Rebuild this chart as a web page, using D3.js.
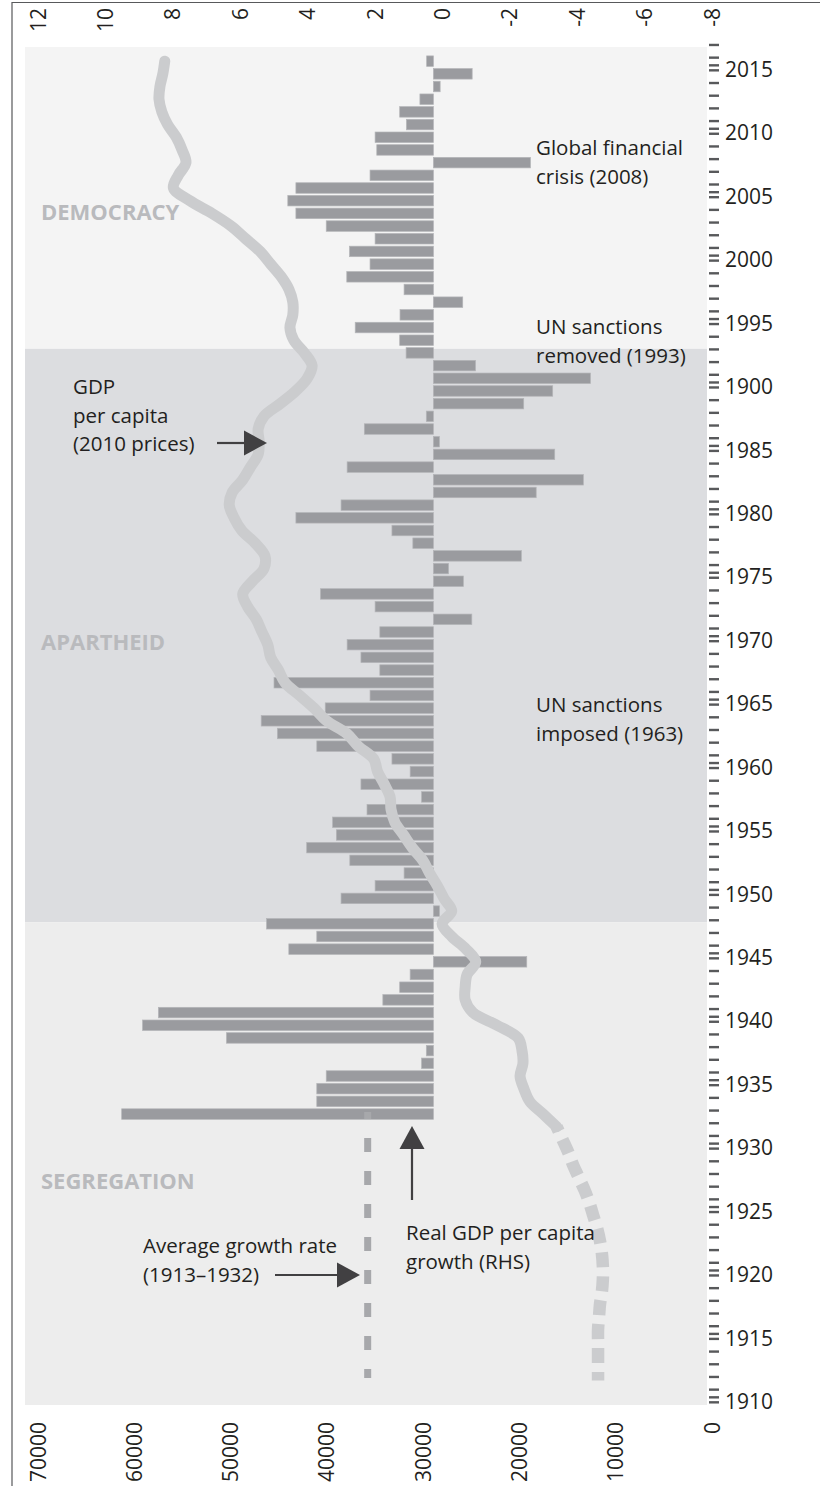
<!DOCTYPE html>
<html>
<head>
<meta charset="utf-8">
<script src="https://cdn.jsdelivr.net/npm/d3@7"></script>
<style>
body { margin: 0; background: #fff; }
text { font-family: "Open Sans", "Noto Sans", sans-serif; fill: #231f20; }
</style>
</head>
<body>
<div id="chart"></div>
<script>
const width = 820
const height = 1486

// real GDP per capita growth (%), 2016 back to 1933
const barYears = d3.range(2016, 1932, -1)
const growthValues = [
  0.2, -1.15, -0.2, 0.4, 1.0, 0.8, 1.73, 1.68, -2.88, 1.88,
  4.08, 4.32, 4.08, 3.18, 1.73, 2.49, 1.88, 2.57, 0.87, -0.87,
  0.99, 2.32, 1.0, 0.81, -1.25, -4.66, -3.54, -2.68, 0.21, 2.05,
  -0.18, -3.6, 2.56, -4.45, -3.05, 2.74, 4.08, 1.23, 0.61, -2.61,
  -0.45, -0.89, 3.35, 1.73, -1.14, 1.59, 2.56, 2.15, 1.59, 4.73,
  1.88, 3.21, 5.11, 4.63, 3.46, 1.23, 0.69, 2.15, 0.35, 1.97,
  2.99, 2.88, 3.76, 2.48, 0.87, 1.73, 2.74, -0.18, 4.95, 3.46,
  4.29, -2.77, 0.69, 1.0, 1.5, 8.16, 8.63, 6.14, 0.21, 0.35,
  3.18, 3.46, 3.46, 9.25
]

// GDP per capita, 2010 prices (rand), 2016 back to 1912
const gdpYears = d3.range(2016, 1911, -1)
const gdpValues = [
  55900, 56100, 56400, 56500, 56200, 55600, 54700, 54100, 53700, 54500,
  55000, 53300, 51000, 49000, 47500, 46000, 44900, 43800, 43000, 42600,
  42600, 42900, 42500, 41400, 40600, 41100, 42300, 43900, 45600, 46200,
  46100, 46200, 47000, 47800, 48900, 49200, 48700, 47900, 46500, 45500,
  45600, 46800, 47800, 47300, 46400, 45800, 45200, 44900, 44100, 43400,
  41900, 40400, 39100, 37000, 35800, 34200, 33800, 33100, 32500, 32400,
  32000, 31100, 30200, 29100, 28400, 27600, 26900, 26100, 27100, 26100,
  24600, 23600, 24500, 24700, 24700, 23900, 21400, 19200, 18800, 18700,
  19000, 18600, 18000, 16600, 15200, 14600, 14000, 13500, 12900, 12300,
  11800, 11400, 11000, 10700, 10500, 10400, 10400, 10500, 10700, 10800,
  10900, 10900, 10900, 10900, 10900
]
const gdpDashedBefore = 1932

// average growth rate 1913-1932
const avgGrowth = 1.95
const avgSpan = [1933, 1912.2]

const eraNames = ["DEMOCRACY", "APARTHEID", "SEGREGATION"]
const eraStarts = [2016.8, 1993, 1947.8]
const eraEnds = [1993, 1947.8, 1909.75]

const growthTicks = [12, 10, 8, 6, 4, 2, 0, -2, -4, -6, -8]
const gdpTicks = [70000, 60000, 50000, 40000, 30000, 20000, 10000, 0]
const yearTicks = d3.range(1910, 2016, 5)
const yearTickLabels = ["1910", "1915", "1920", "1925", "1930", "1935", "1940", "1945",
  "1950", "1955", "1960", "1965", "1970", "1975", "1980", "1985", "1900", "1995",
  "2000", "2005", "2010", "2015"]

const eraFill = ["#f4f4f4", "#dcdde0", "#ededed"]
const barColor = "#9a9b9f"
const lineColor = "#cbccce"
const inkColor = "#414042"

const plot = {left: 25, right: 707, top: 47, bottom: 1405}
const barOffset = 4
const barHeight = 10.5

const svg = d3.select("#chart").append("svg")
    .attr("width", width)
    .attr("height", height)
    .attr("viewBox", [0, 0, width, height])

const yScale = d3.scaleLinear()
    .domain([2016.8, 1909.75])
    .range([plot.top, plot.bottom])

const xGrowth = d3.scaleLinear()
    .domain([12, -8])
    .range([29, 703])

const xGdp = d3.scaleLinear()
    .domain([70000, 0])
    .range([29, 703])

// frame
svg.append("path")
    .attr("d", `M12,${height} V2.5 H${width}`)
    .attr("fill", "none")
    .attr("stroke", "#58595b")
    .attr("stroke-width", 1.2)

// era bands
eraNames.forEach((name, i) => {
    svg.append("rect")
        .attr("x", plot.left)
        .attr("width", plot.right - plot.left)
        .attr("y", yScale(eraStarts[i]))
        .attr("height", yScale(eraEnds[i]) - yScale(eraStarts[i]))
        .attr("fill", eraFill[i])
})
const eraLabelY = [212, 642, 1181]
eraNames.forEach((name, i) => {
    svg.append("text")
        .text(name)
        .attr("x", 41)
        .attr("y", eraLabelY[i])
        .attr("dy", "0.35em")
        .style("font-size", "22px")
        .style("font-weight", "bold")
        .style("fill", "#b9babd")
})

// bars
const barData = barYears.map((year, i) => ({year, value: growthValues[i]}))
svg.append("g").selectAll("rect")
    .data(barData)
    .join("rect")
    .attr("x", d => Math.min(xGrowth(d.value), xGrowth(0)))
    .attr("width", d => Math.abs(xGrowth(d.value) - xGrowth(0)))
    .attr("y", d => yScale(d.year) + barOffset - barHeight / 2)
    .attr("height", barHeight)
    .attr("fill", barColor)
    .attr("stroke", "#b4b5b8")
    .attr("stroke-width", 0.7)

// gdp line, solid then dashed before 1932
const gdpData = gdpYears.map((year, i) => ({year, value: gdpValues[i]}))
const gdpLine = d3.line()
    .x(d => xGdp(d.value))
    .y(d => yScale(d.year) + barOffset)
    .curve(d3.curveCatmullRom)

svg.append("path")
    .datum(gdpData.filter(d => d.year >= gdpDashedBefore))
    .attr("d", gdpLine)
    .attr("fill", "none")
    .attr("stroke", lineColor)
    .attr("stroke-width", 11)
    .attr("stroke-linecap", "round")
    .attr("stroke-linejoin", "round")

svg.append("path")
    .datum(gdpData.filter(d => d.year <= gdpDashedBefore))
    .attr("d", gdpLine)
    .attr("fill", "none")
    .attr("stroke", lineColor)
    .attr("stroke-width", 12.5)
    .attr("stroke-dasharray", "15,9")
    .attr("stroke-dashoffset", 10)

// average growth line
svg.append("line")
    .attr("x1", xGrowth(avgGrowth))
    .attr("x2", xGrowth(avgGrowth))
    .attr("y1", yScale(avgSpan[0]) + barOffset - 2)
    .attr("y2", yScale(avgSpan[1]) + barOffset)
    .attr("stroke", "#a7a8ab")
    .attr("stroke-width", 7)
    .attr("stroke-dasharray", "14,19")
    .attr("stroke-dashoffset", 7)

// year axis on the right
const yearAxis = d3.axisRight(yScale)
    .tickValues(d3.range(1910, 2018))
    .tickSize(10)
    .tickPadding(6)
    .tickFormat(d => {
        const k = yearTicks.indexOf(d)
        return k >= 0 ? yearTickLabels[k] : ""
    })
const yearG = svg.append("g")
    .attr("transform", `translate(${plot.right + 2},0)`)
    .call(yearAxis)
yearG.select(".domain").remove()
yearG.selectAll(".tick")
    .filter(d => yearTicks.includes(d))
    .append("line")
    .attr("x2", 10)
    .attr("y1", -5)
    .attr("y2", -5)
yearG.selectAll("line")
    .attr("stroke", "#58595b")
    .attr("stroke-width", 2.4)
yearG.selectAll("text")
    .style("font-size", "21px")
    .style("font-family", "'Open Sans', sans-serif")
    .attr("fill", "#231f20")

// growth labels on top, gdp labels at bottom (rotated)
svg.append("g").selectAll("text")
    .data(growthTicks)
    .join("text")
    .text(d => d)
    .attr("text-anchor", "end")
    .attr("transform", d => `translate(${xGrowth(d) + 16.5},8) rotate(-90)`)
    .style("font-size", "21px")

svg.append("g").selectAll("text")
    .data(gdpTicks)
    .join("text")
    .text(d => d)
    .attr("text-anchor", "end")
    .attr("transform", d => `translate(${xGdp(d) + 16.5},1422) rotate(-90)`)
    .style("font-size", "21px")

// annotations
function note(lines, x, y) {
    const t = svg.append("text")
        .attr("x", x)
        .attr("y", y)
        .style("font-size", "20.5px")
    lines.forEach((line, i) => {
        t.append("tspan")
            .attr("x", x)
            .attr("dy", i === 0 ? "0.35em" : "1.39em")
            .text(line)
    })
}
function arrow(x1, y1, x2, y2) {
    const angle = Math.atan2(y2 - y1, x2 - x1)
    const len = 23, half = 12.5
    const bx = x2 - len * Math.cos(angle), by = y2 - len * Math.sin(angle)
    svg.append("line")
        .attr("x1", x1).attr("y1", y1)
        .attr("x2", bx).attr("y2", by)
        .attr("stroke", inkColor)
        .attr("stroke-width", 2.2)
    svg.append("path")
        .attr("d", `M${x2},${y2} L${bx - half * Math.sin(angle)},${by + half * Math.cos(angle)} L${bx + half * Math.sin(angle)},${by - half * Math.cos(angle)} Z`)
        .attr("fill", inkColor)
}

note(["Global financial", "crisis (2008)"], 536, 148)
note(["UN sanctions", "removed (1993)"], 536, 327)
note(["UN sanctions", "imposed (1963)"], 536, 705)
note(["GDP", "per capita", "(2010 prices)"], 73, 387)
arrow(217, 443, 267, 443)
note(["Average growth rate", "(1913\u20131932)"], 143, 1246)
arrow(275, 1275, 360, 1275)
note(["Real GDP per capita", "growth (RHS)"], 406, 1233)
arrow(412, 1200, 412, 1126)
</script>
</body>
</html>
